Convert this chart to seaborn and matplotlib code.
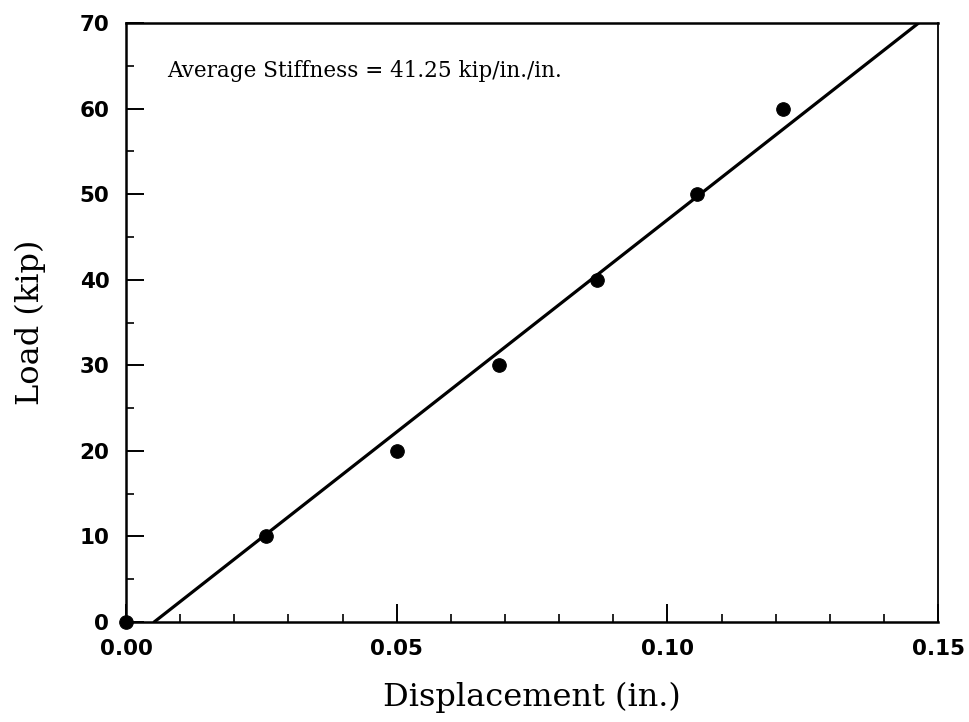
import matplotlib
matplotlib.use("Agg")
import matplotlib.pyplot as plt
import seaborn as sns
import pandas as pd
from matplotlib.ticker import MultipleLocator, FormatStrFormatter

# measured points
displacement = [0.0, 0.0258, 0.0500, 0.0689, 0.0870, 0.1054, 0.1213]
load = [0, 10, 20, 30, 40, 50, 60]

# stiffness line as drawn (end points)
fit_disp = [0.0052, 0.1464]
fit_load = [0, 70]

stiffness_note = "Average Stiffness = 41.25 kip/in./in."

sns.set_theme(style="ticks")
plt.rcParams['font.family'] = ['DejaVu Serif']

df = pd.DataFrame({'disp': displacement, 'load': load})
fit = pd.DataFrame({'disp': fit_disp, 'load': fit_load})

fig = plt.figure(figsize=(9.7, 7.22), dpi=100)
ax = fig.add_axes([0.1299, 0.1385, 0.8372, 0.8296])

sns.lineplot(data=fit, x='disp', y='load', color='black', linewidth=2.3, ax=ax)
sns.scatterplot(data=df, x='disp', y='load', color='black', s=95,
                edgecolor='black', clip_on=False, zorder=5, ax=ax)

ax.set_xlim(0, 0.15)
ax.set_ylim(0, 70)
ax.xaxis.set_major_locator(MultipleLocator(0.05))
ax.xaxis.set_minor_locator(MultipleLocator(0.01))
ax.yaxis.set_major_locator(MultipleLocator(10))
ax.yaxis.set_minor_locator(MultipleLocator(5))
ax.xaxis.set_major_formatter(FormatStrFormatter('%.2f'))

ax.tick_params(which='both', direction='in', bottom=True, left=True,
               top=False, right=False, color='black')
ax.tick_params(which='major', length=13, width=1.4, pad=12)
ax.tick_params(which='minor', length=6, width=1.2)
for lab in ax.get_xticklabels() + ax.get_yticklabels():
    lab.set_family(['DejaVu Sans'])
    lab.set_fontweight('bold')
    lab.set_fontsize(15.5)
    lab.set_color('black')

for side in ['left', 'bottom', 'top']:
    ax.spines[side].set_linewidth(1.8)
    ax.spines[side].set_color('black')
ax.spines['right'].set_linewidth(1.3)
ax.spines['right'].set_color('black')

ax.set_xlabel('Displacement (in.)', fontsize=23, color='black', labelpad=17)
ax.set_ylabel('Load (kip)', fontsize=23, color='black', labelpad=24)

ax.text(0.0505, 0.91, stiffness_note, transform=ax.transAxes,
        fontsize=15.5, va='baseline', ha='left', color='black')

plt.savefig('out.png', dpi=100, facecolor='white')
plt.close(fig)
